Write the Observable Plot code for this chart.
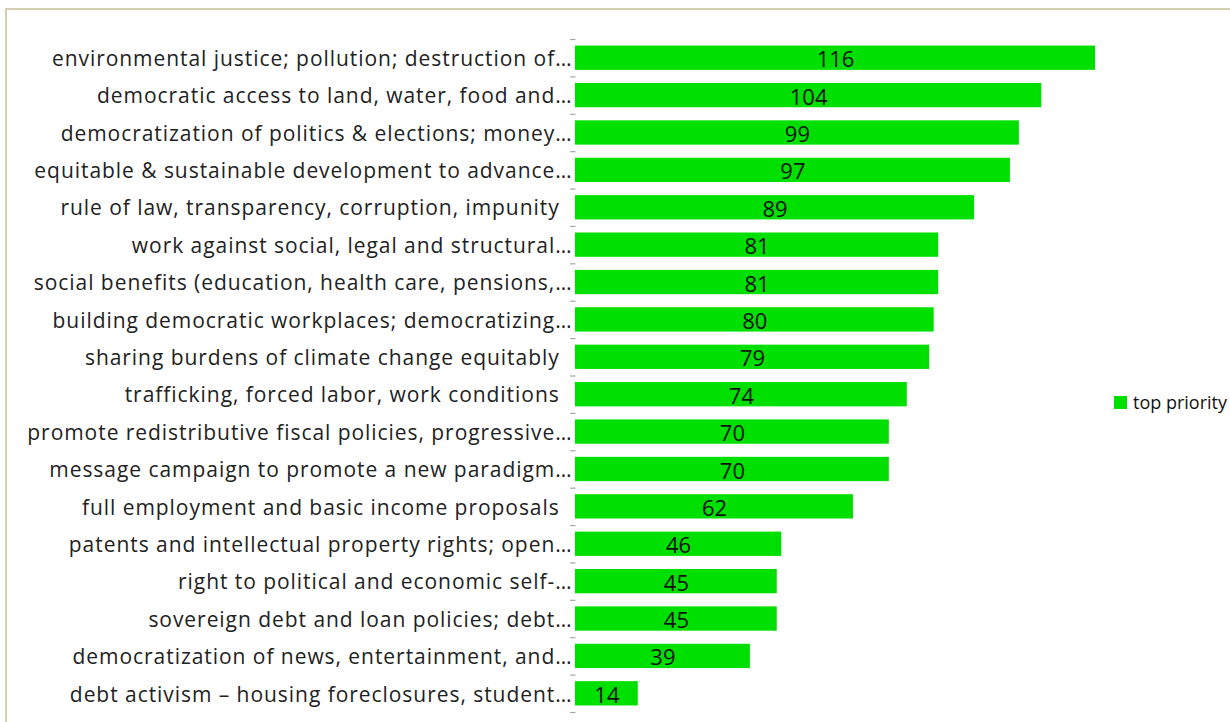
<!DOCTYPE html>
<html><head><meta charset="utf-8">
<script src="https://cdn.jsdelivr.net/npm/d3@7"></script>
<script src="https://cdn.jsdelivr.net/npm/@observablehq/plot@0.6"></script>
<style>
html,body{margin:0;padding:0;background:#fff;}
#wrap{position:relative;width:1230px;height:722px;overflow:hidden;font-family:"Open Sans",sans-serif;}
#frame{position:absolute;left:5px;top:8px;width:1240px;height:730px;border:2px solid #d4cfb0;box-sizing:border-box;}
#legend{position:absolute;left:1114px;top:390px;font-size:18px;color:#111;display:flex;align-items:center;gap:6px;white-space:nowrap;}
#legend .sw{width:13px;height:13px;background:#00e000;display:inline-block;}
#chart{position:absolute;left:0;top:0;}
#chart svg g[aria-label="y-axis tick label"] text{letter-spacing:0.95px;}
</style></head>
<body><div id="wrap"><div id="frame"></div><div id="chart"></div>
<div id="legend"><span class="sw"></span><span>top priority</span></div></div>
<script>
const categories = [
  "environmental justice; pollution; destruction of…",
  "democratic access to land, water, food and…",
  "democratization of politics & elections; money…",
  "equitable & sustainable development to advance…",
  "rule of law, transparency, corruption, impunity\u00a0\u00a0",
  "work against social, legal and structural…",
  "social benefits (education, health care, pensions,…",
  "building democratic workplaces; democratizing…",
  "sharing burdens of climate change equitably\u00a0\u00a0",
  "trafficking, forced labor, work conditions\u00a0\u00a0",
  "promote redistributive fiscal policies, progressive…",
  "message campaign to promote a new paradigm…",
  "full employment and basic income proposals\u00a0\u00a0",
  "patents and intellectual property rights; open…",
  "right to political and economic self-…",
  "sovereign debt and loan policies; debt…",
  "democratization of news, entertainment, and…",
  "debt activism – housing foreclosures, student…"
];
const values = [116, 104, 99, 97, 89, 81, 81, 80, 79, 74, 70, 70, 62, 46, 45, 45, 39, 14];
const seriesName = "top priority";

const data = categories.map((c, i) => ({category: c, value: values[i]}));
const last = categories[categories.length - 1];
const step = 673 / 18;

const chart = Plot.plot({
  width: 1230,
  height: 722,
  marginLeft: 575,
  marginRight: 117,
  marginTop: 39,
  marginBottom: 10,
  style: {fontFamily: "'Open Sans', sans-serif", background: "transparent"},
  x: {domain: [0, 120], axis: null},
  y: {domain: categories, paddingInner: 0.35, paddingOuter: 0.175, round: false, label: null},
  marks: [
    Plot.barX(data, {y: "category", x: "value", fill: "#00e000"}),
    Plot.text(data, {y: "category", x: d => d.value / 2, text: d => String(d.value), fontSize: 22, fill: "#111", dy: 2}),
    Plot.axisY({tickSize: 0, tickPadding: 3, fontSize: 21, fill: "#222", label: null, dy: 1}),
    Plot.ruleX([0], {stroke: "#a6a6a6", strokeWidth: 1.2, y1: categories[0], y2: last, insetTop: -step / 2, insetBottom: -step / 2}),
    Plot.link(data, {y1: "category", y2: "category", x1: -1.2, x2: 0, stroke: "#a6a6a6", strokeWidth: 1.2, dy: -step / 2, clip: false}),
    Plot.link([{category: last}], {y1: "category", y2: "category", x1: -1.2, x2: 0, stroke: "#a6a6a6", strokeWidth: 1.2, dy: step / 2, clip: false})
  ]
});
document.getElementById("chart").appendChild(chart);
</script></body></html>
